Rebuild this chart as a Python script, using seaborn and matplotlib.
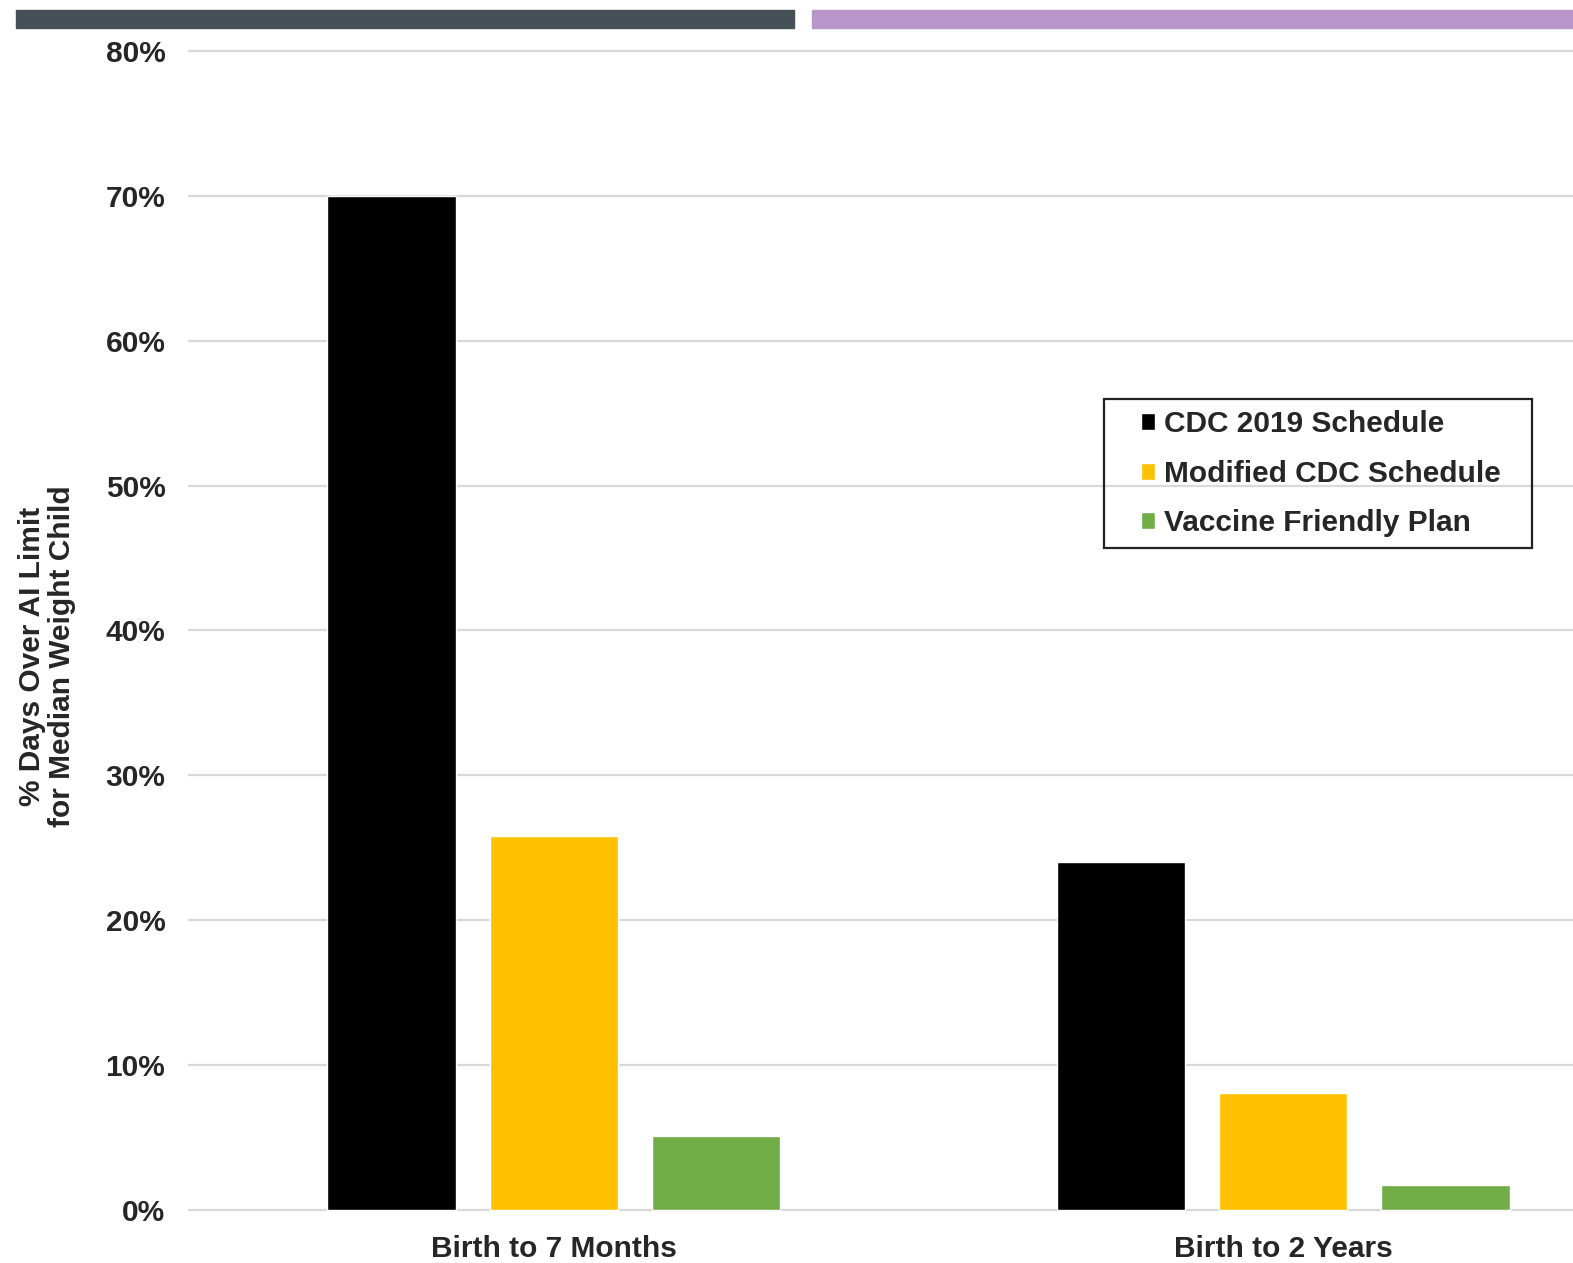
import pandas as pd
import seaborn as sns
import matplotlib.pyplot as plt
from matplotlib.patches import Rectangle

# data
age_windows = ["Birth to 7 Months", "Birth to 2 Years"]
schedules = ["CDC 2019 Schedule", "Modified CDC Schedule", "Vaccine Friendly Plan"]
cdc_2019 = [70.0, 24.0]
modified_cdc = [25.8, 8.1]
vaccine_friendly = [5.1, 1.7]
y_ticks = [0, 10, 20, 30, 40, 50, 60, 70, 80]
bar_colors = ["#000000", "#FFC000", "#70AD47"]

rows = []
for name, vals in zip(schedules, [cdc_2019, modified_cdc, vaccine_friendly]):
    for win, v in zip(age_windows, vals):
        rows.append({"Window": win, "Schedule": name, "Pct": v})
df = pd.DataFrame(rows)

sns.set_style("white")
plt.rcParams["font.family"] = ["Liberation Sans", "DejaVu Sans"]
plt.rcParams["font.weight"] = "bold"

W, H = 1573, 1263
SX, SY = 1573 / 1568, 1263 / 1259  # measured on the shrunk preview
fig = plt.figure(figsize=(W / 100, H / 100), dpi=100)

# axes placement in pixels
unit = (1206 - 51) * SY / 80
ax_left_px = 187 * SX
ax_bottom_px = 1206 * SY + 0.3 * unit
ax_top_px = 51 * SY - 0.3 * unit
ax_w_px = W - ax_left_px
ax_h_px = ax_bottom_px - ax_top_px
ax = fig.add_axes([ax_left_px / W, (H - ax_bottom_px) / H, ax_w_px / W, ax_h_px / H])


def ax_x(px):
    return (px * SX - ax_left_px) / ax_w_px


def ax_y(py):
    return (ax_bottom_px - py * SY) / ax_h_px


sns.barplot(data=df, x="Window", y="Pct", hue="Schedule", hue_order=schedules,
            order=age_windows, palette=bar_colors, width=0.668, gap=0.21,
            saturation=1, errorbar=None, ax=ax)

c0, c1 = 552 * SX, 1279 * SX
step = c1 - c0
ax.set_ylim(-0.3, 80.3)
ax.set_xlim(-(c0 - ax_left_px) / step, 1 + (W - c1) / step)
ax.set_yticks(y_ticks)
ax.set_yticklabels([f"{v}%" for v in y_ticks])
ax.yaxis.grid(True, color="#d9d9d9", linewidth=1.6)
ax.set_axisbelow(True)
for s in ax.spines.values():
    s.set_visible(False)
ax.tick_params(axis="y", length=0, pad=16, labelsize=21.5)
ax.tick_params(axis="x", length=0, pad=15, labelsize=21.5)
ax.set_xlabel("")
ax.set_ylabel("% Days Over AI Limit\nfor Median Weight Child", fontsize=21.5,
              fontweight="bold", linespacing=1.08)
ax.yaxis.set_label_coords(ax_x(76), ax_y(654))
for lbl in ax.get_xticklabels() + ax.get_yticklabels():
    lbl.set_fontweight("bold")

# legend without frame, frame drawn as box
handles, labels = ax.get_legend_handles_labels()
ax.legend(handles, labels, loc="upper left",
          bbox_to_anchor=(ax_x(1137), ax_y(409)),
          borderaxespad=0, borderpad=0, frameon=False, handlelength=0.48,
          handleheight=0.48, handletextpad=0.3, labelspacing=0.72,
          prop={"size": 21.5, "weight": "bold"})
ax.add_patch(Rectangle((ax_x(1100), ax_y(546)), ax_x(1527) - ax_x(1100),
                       ax_y(398) - ax_y(546),
                       transform=ax.transAxes, fill=False, edgecolor="#222222",
                       linewidth=1.6, clip_on=False, zorder=5))

# header strips
fig.patches.append(Rectangle((16 * SX / W, (H - 28 * SY) / H), (791 - 16) * SX / W, 18 * SY / H,
                             transform=fig.transFigure, color="#455057"))
fig.patches.append(Rectangle((809 * SX / W, (H - 28 * SY) / H), (W - 809 * SX) / W, 18 * SY / H,
                             transform=fig.transFigure, color="#B896C9"))

fig.savefig("out.png", dpi=100)
